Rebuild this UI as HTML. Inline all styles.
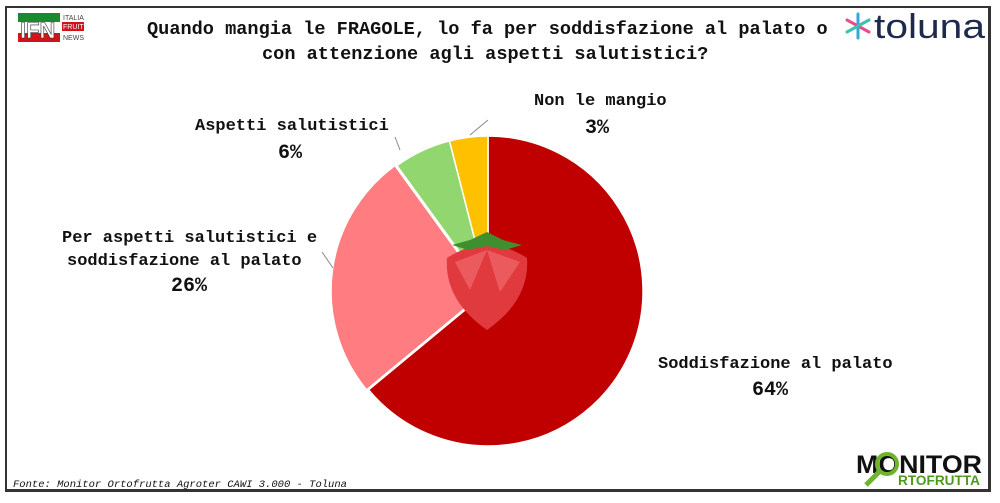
<!DOCTYPE html>
<html><head><meta charset="utf-8"><style>
body{margin:0;background:#fff;width:1000px;height:503px;overflow:hidden;position:relative;font-family:"Liberation Mono",monospace;}
.frame{position:absolute;left:5px;top:6px;width:986px;height:486px;border:2px solid #333;box-sizing:border-box;border-right-width:3px;border-bottom-width:3px;}
.t{position:absolute;color:#111;white-space:nowrap;}
</style></head><body>
<div class="frame"></div>
<svg width="1000" height="503" style="position:absolute;left:0;top:0">
<!-- IFN logo -->
<rect x="18" y="13" width="42" height="29" fill="#1a8a2e"/>
<rect x="18" y="22" width="42" height="11" fill="#fff"/>
<rect x="18" y="33" width="42" height="9" fill="#d0141b"/>
<text x="20" y="38" font-family="Liberation Sans" font-weight="bold" font-size="22" fill="#fff" stroke="#333" stroke-width="0.6">IFN</text>
<text x="63" y="20" font-family="Liberation Sans" font-size="7" fill="#444">ITALIA</text>
<rect x="62" y="22" width="22" height="9" fill="#d0141b"/>
<text x="63" y="29" font-family="Liberation Sans" font-size="7" fill="#fff">FRUIT</text>
<text x="63" y="40" font-family="Liberation Sans" font-size="7" fill="#444">NEWS</text>
<!-- toluna -->
<g stroke-width="3" stroke-linecap="round">
<line x1="858" y1="14" x2="858" y2="38" stroke="#2ea9d8"/><line x1="847" y1="20" x2="869" y2="32" stroke="#e84d8a"/><line x1="847" y1="32" x2="869" y2="20" stroke="#37c3b5"/>
</g>
<text x="874" y="38" font-family="Liberation Sans" font-size="34" fill="#1d2a4d" textLength="111" lengthAdjust="spacingAndGlyphs">toluna</text>
<!-- pie -->
<path d="M488,291 L488,136 A155,155 0 1,1 368.6,389.8 Z" fill="#c00000" stroke="#fff" stroke-width="1.5"/>
<path d="M486,291 L366.6,389.8 A155,155 0 0,1 394.9,165.6 Z" fill="#ff7c80" stroke="#fff" stroke-width="1.5"/>
<path d="M488,291 L396.9,165.6 A155,155 0 0,1 449.5,140.9 Z" fill="#92d66f" stroke="#fff" stroke-width="1.5"/>
<path d="M488,291 L449.5,140.9 A155,155 0 0,1 488,136 Z" fill="#ffc000" stroke="#fff" stroke-width="1.5"/>
<!-- strawberry -->
<path d="M447,258 Q487,232 527,258 Q530,300 487,330 Q444,300 447,258 Z" fill="#e03a3e"/>
<path d="M455,262 L487,250 L470,290 Z M487,250 L520,262 L500,292 Z" fill="#f06a6c" opacity=".7"/>
<path d="M452,245 L470,240 L487,232 L503,240 L522,245 L505,250 L487,246 L468,250 Z" fill="#3f8f2e"/>
<!-- leader lines -->
<polyline points="395,137 400,150" fill="none" stroke="#888"/>
<polyline points="488,120 470,135" fill="none" stroke="#888"/>
<polyline points="322,252 333,268" fill="none" stroke="#888"/>
<!-- monitor logo -->
<text x="856" y="473" font-family="Liberation Sans" font-weight="bold" font-size="25" fill="#111" textLength="126" lengthAdjust="spacingAndGlyphs">MONITOR</text>
<circle cx="887" cy="464" r="10" fill="none" stroke="#6fb42c" stroke-width="4"/>
<line x1="880" y1="471" x2="866" y2="485" stroke="#6fb42c" stroke-width="5"/>
<text x="898" y="485" font-family="Liberation Sans" font-weight="bold" font-size="14" fill="#4e9a1e" textLength="82" lengthAdjust="spacingAndGlyphs">RTOFRUTTA</text>
</svg>
<div class="t" style="left:147px;top:19px;font-size:18.6px;font-weight:bold">Quando mangia le FRAGOLE, lo fa per soddisfazione al palato o</div>
<div class="t" style="left:262px;top:44px;font-size:18.6px;font-weight:bold">con attenzione agli aspetti salutistici?</div>
<div class="t" style="left:534px;top:92px;font-size:17px;font-weight:bold">Non le mangio</div>
<div class="t" style="left:585px;top:117px;font-size:20px;font-weight:bold">3%</div>
<div class="t" style="left:195px;top:117px;font-size:17px;font-weight:bold">Aspetti salutistici</div>
<div class="t" style="left:278px;top:142px;font-size:20px;font-weight:bold">6%</div>
<div class="t" style="left:62px;top:229px;font-size:17px;font-weight:bold">Per aspetti salutistici e</div>
<div class="t" style="left:67px;top:252px;font-size:17px;font-weight:bold">soddisfazione al palato</div>
<div class="t" style="left:171px;top:275px;font-size:20px;font-weight:bold">26%</div>
<div class="t" style="left:658px;top:355px;font-size:17px;font-weight:bold">Soddisfazione al palato</div>
<div class="t" style="left:752px;top:379px;font-size:20px;font-weight:bold">64%</div>
<div class="t" style="left:13px;top:479px;font-size:10.5px;font-style:italic">Fonte: Monitor Ortofrutta Agroter CAWI 3.000 - Toluna</div>
</body></html>
